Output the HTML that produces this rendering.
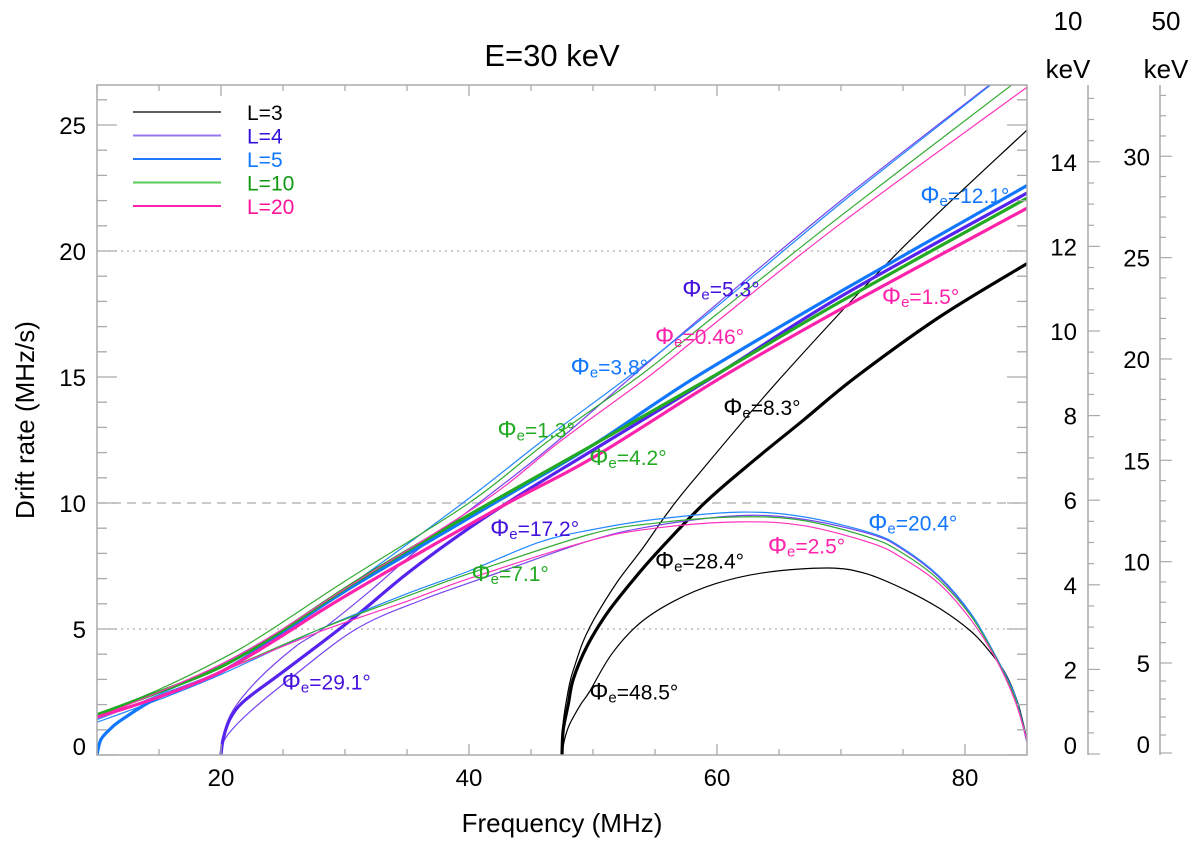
<!DOCTYPE html>
<html><head><meta charset="utf-8">
<style>
html,body{margin:0;padding:0;background:#fff;}
svg{display:block;font-family:"Liberation Sans",Arial,sans-serif;}
</style></head>
<body>
<svg id="chart" width="1200" height="847" viewBox="0 0 1200 847" xmlns="http://www.w3.org/2000/svg">
<text x="552" y="66" font-size="31" text-anchor="middle">E=30 keV</text>
<text x="562" y="832" font-size="26" text-anchor="middle">Frequency (MHz)</text>
<text transform="translate(34,420) rotate(-90)" font-size="26" text-anchor="middle">Drift rate (MHz/s)</text>
<text x="1068" y="30" font-size="26" text-anchor="middle">10</text>
<text x="1068" y="78" font-size="26" text-anchor="middle">keV</text>
<text x="1166" y="30" font-size="26" text-anchor="middle">50</text>
<text x="1166" y="78" font-size="26" text-anchor="middle">keV</text>
<g id="grid"></g>
<g id="curves"></g>
<g id="axes"></g>
<g id="labels"></g>
<g id="legend"></g>
</svg>
<script>
// ---- data ----
const xTicks = [20, 40, 60, 80];
const yTicks = [0, 5, 10, 15, 20, 25];
const kev10Ticks = [0, 2, 4, 6, 8, 10, 12, 14];
const kev50Ticks = [0, 5, 10, 15, 20, 25, 30];
const legendLabels = ["L=3", "L=4", "L=5", "L=10", "L=20"];
// thick curves [freq, drift]
const thickL3 = [[47.5,0],[47.6,1.0],[48.0,2.0],[48.4,3.0],[49.5,4.3],[51.1,5.6],[53,6.8],[55.1,8.0],[59,10],[63,11.7],[67,13.3],[71.2,15],[78,17.4],[85,19.5]];
const thickL4 = [[20,0],[20.2,0.7],[20.8,1.5],[22,2.2],[25,3.3],[30.6,5.4],[35,7.2],[40,9.0],[45,10.6],[50,12.1],[60,15.1],[70,18.2],[85,22.3]];
const thickL5 = [[10,0],[10.3,0.6],[11,1.0],[12,1.4],[15,2.3],[20,3.3],[24.5,4.7],[30,6.5],[42.4,10.1],[50,12.3],[58.3,15],[70,18.4],[85,22.6]];
const thickL10 = [[10,1.6],[15,2.5],[20,3.5],[24.5,4.8],[30,6.6],[35,8.1],[42.4,10.2],[50,12.3],[59.6,15],[70,18.0],[85,22.1]];
const thickL20 = [[10,1.5],[15,2.3],[20,3.3],[24.5,4.6],[30,6.3],[42.4,9.8],[50,11.8],[60.4,15],[70,17.7],[85,21.7]];
// thin upper curves
const upperL3 = [[47.5,0],[47.6,1.3],[48.1,2.8],[48.5,3.5],[49.2,4.5],[50.1,5.4],[52,6.9],[54,8.2],[56,9.6],[58.1,10.9],[65.2,15],[74.7,20],[85,24.8]];
const upperL4 = [[20,0],[20.2,0.8],[21,1.8],[23,3.0],[26,4.3],[28.2,5.0],[32,6.5],[36,8.2],[41.6,10.3],[47,12.4],[53.1,15],[60,17.9],[70,22.0],[82,26.6]];
const upperL5 = [[10,1.4],[15,2.4],[20,3.6],[24,4.7],[30,6.6],[39.5,10],[46,12.5],[53.1,15.1],[60,17.8],[70,21.9],[82.1,26.6]];
const upperL10 = [[10,1.6],[15,2.6],[20,3.8],[23.5,4.8],[30,6.9],[40,10],[46.5,12.5],[53.9,15.1],[60,17.5],[70,21.4],[83.8,26.6]];
const upperL20 = [[10,1.5],[15,2.5],[20,3.6],[24,4.7],[30,6.6],[41,10],[47.5,12.5],[54.7,15.1],[60,17.2],[70,21.1],[85,26.5]];
// arch curves
const archL3 = [[47.5,0],[47.7,0.6],[48.1,1.2],[49,2.0],[49.7,2.5],[51.5,4.0],[53.7,5.2],[56.5,6.1],[59.9,6.8],[64,7.25],[69,7.42],[72,7.2],[75.2,6.55],[78,5.8],[80.5,4.9],[82,4.1],[83.3,3.2],[84.3,2.0],[85,0.6]];
const archL4 = [[20,0],[20.1,0.4],[20.7,0.9],[22.3,1.7],[25.5,3.0],[30.9,5.0],[36.2,6.15],[41.6,7.1],[49.7,8.5],[55,9.1],[61.8,9.5],[67,9.35],[72.5,8.75],[75,8.15],[77.9,7.05],[80.5,5.55],[82.5,3.9],[84,2.3],[85,0.5]];
const archL5 = [[10,1.3],[15,2.2],[20,3.2],[28,5.0],[35,6.4],[40,7.3],[45.7,8.45],[50,8.95],[55,9.35],[61.8,9.64],[67,9.45],[72.5,8.8],[75,8.2],[77.9,7.1],[80.5,5.6],[82.5,3.9],[84,2.4],[85,0.6]];
const archL10 = [[10,1.5],[15,2.3],[20,3.3],[28,5.0],[35,6.3],[40,7.2],[49.7,8.75],[55,9.2],[61.8,9.45],[67,9.3],[72.5,8.6],[75,8.0],[77.9,6.95],[80.5,5.5],[82.5,3.85],[84,2.3],[85,0.6]];
const archL20 = [[10,1.5],[15,2.3],[20,3.3],[28,4.9],[35,6.1],[40,7.0],[49.7,8.5],[55,9.0],[61.8,9.25],[67,9.1],[72.5,8.4],[75,7.8],[77.9,6.8],[80.5,5.35],[82.5,3.8],[84,2.2],[85,0.6]];
const angleLabels = [
 ["12.1°",76.4,21.9,"#1177ff"],["5.3°",57.2,18.2,"#4411dd"],["1.5°",73.3,17.9,"#ff22aa"],
 ["0.46°",55.0,16.3,"#ff22aa"],["3.8°",48.2,15.1,"#1177ff"],["8.3°",60.5,13.5,"#000"],
 ["1.3°",42.3,12.6,"#22aa22"],["4.2°",49.7,11.5,"#22aa22"],["17.2°",41.7,8.7,"#4411dd"],
 ["20.4°",72.2,8.9,"#1177ff"],["2.5°",64.1,8.0,"#ff22aa"],["28.4°",55.0,7.4,"#000"],
 ["7.1°",40.2,6.9,"#22aa22"],["29.1°",24.9,2.6,"#4411dd"],["48.5°",49.7,2.2,"#000"]];

// ---- scales ----
const X0=97, X1=1027, Y0=755, Y1=85;
const xs = f => X0 + (f-10)*(X1-X0)/75;
const ys = d => Y0 - d*25.2;
const y10 = v => 754 - v*42.3;
const y50 = v => v<5 ? 753 - v*18 : 663 - (v-5)*20.27;
const NS="http://www.w3.org/2000/svg";
function mk(tag, attrs, parent){const e=document.createElementNS(NS,tag);for(const k in attrs)e.setAttribute(k,attrs[k]);parent.appendChild(e);return e;}
const grid=document.getElementById('grid'), axes=document.getElementById('axes'), curves=document.getElementById('curves'), labels=document.getElementById('labels'), legend=document.getElementById('legend');

[[5,"2,4"],[10,"9,6"],[20,"2,4"]].forEach(([v,da])=>{
  const l=mk('line',{x1:X0,x2:X1,y1:ys(v),y2:ys(v),stroke:'#aaa','stroke-width':1.2,'stroke-dasharray':da},grid);
  
  
});

const fr=mk('rect',{x:X0,y:Y1,width:X1-X0,height:Y0-Y1,fill:'none',stroke:'#aaa','stroke-width':1.5},axes);


for(let f=10;f<=85;f+=5){
  const maj = f%20===0, len = maj?11:6;
  mk('line',{x1:xs(f),x2:xs(f),y1:Y0,y2:Y0-len,stroke:'#aaa','stroke-width':1.3},axes);
  mk('line',{x1:xs(f),x2:xs(f),y1:Y1,y2:Y1+len,stroke:'#aaa','stroke-width':1.3},axes);
}
xTicks.forEach(v=>{
  const t=mk('text',{x:xs(v),y:786,'font-size':24,'text-anchor':'middle'},axes);t.textContent=v;
  
  
});
for(let d=0;d<=26;d++){
  const maj=d%5===0, len=maj?20:10;
  mk('line',{x1:X0,x2:X0+len,y1:ys(d),y2:ys(d),stroke:'#aaa','stroke-width':1.3},axes);
  mk('line',{x1:X1,x2:X1-len,y1:ys(d),y2:ys(d),stroke:'#aaa','stroke-width':1.3},axes);
}
yTicks.forEach(v=>{
  const t=mk('text',{x:86,y:ys(v)+(v===0?0:9),'font-size':24,'text-anchor':'end'},axes);t.textContent=v;
  
  
});
const AX10=1088, AX50=1160;
mk('line',{x1:AX10,x2:AX10,y1:Y1,y2:Y0,stroke:'#aaa','stroke-width':1.5},axes);
for(let v=0;v<=15.5;v+=0.5){
  const maj=v%2===0;
  mk('line',{x1:AX10,x2:AX10+(maj?12:6),y1:y10(v),y2:y10(v),stroke:'#aaa','stroke-width':1.2},axes);
}
kev10Ticks.forEach(v=>{
  const t=mk('text',{x:1077,y:y10(v)+(v===0?0:9),'font-size':24,'text-anchor':'end'},axes);t.textContent=v;
  
  
});
mk('line',{x1:AX50,x2:AX50,y1:Y1,y2:Y0,stroke:'#aaa','stroke-width':1.5},axes);
for(let v=0;v<=33;v++){
  const maj=v%5===0;
  mk('line',{x1:AX50,x2:AX50+(maj?12:6),y1:y50(v),y2:y50(v),stroke:'#aaa','stroke-width':1.2},axes);
}
kev50Ticks.forEach(v=>{
  const t=mk('text',{x:1150,y:y50(v)+(v===0?0:9),'font-size':24,'text-anchor':'end'},axes);t.textContent=v;
  
  
});

function pathFrom(pts){
  const p=pts.map(([f,d])=>[xs(f),ys(d)]);
  let s='M'+p[0][0].toFixed(1)+','+p[0][1].toFixed(1);
  for(let i=0;i<p.length-1;i++){
    const a=p[i-1]||p[i], b=p[i], c=p[i+1], e=p[i+2]||c;
    const c1=[b[0]+(c[0]-a[0])/6,b[1]+(c[1]-a[1])/6], c2=[c[0]-(e[0]-b[0])/6,c[1]-(e[1]-b[1])/6];
    s+=' C'+c1.map(v=>v.toFixed(1))+' '+c2.map(v=>v.toFixed(1))+' '+c[0].toFixed(1)+','+c[1].toFixed(1);
  }
  return s;
}
const cols={L3:'#000',L4:'#5522ee',L5:'#1177ff',L10:'#22aa22',L20:'#ff22aa'};
const thinCols={L3:'#000',L4:'#7744ee',L5:'#2288ff',L10:'#33aa33',L20:'#ff33bb'};
const sets=[['L3',thickL3,upperL3,archL3],['L4',thickL4,upperL4,archL4],['L5',thickL5,upperL5,archL5],['L10',thickL10,upperL10,archL10],['L20',thickL20,upperL20,archL20]];
const clip=mk('clipPath',{id:'pc'},curves);mk('rect',{x:X0,y:Y1,width:X1-X0,height:Y0-Y1},clip);
sets.forEach(([k,th,up,ar])=>{
  const g=mk('g',{'clip-path':'url(#pc)'},curves);
  
  
  const a=mk('path',{d:pathFrom(ar),fill:'none',stroke:thinCols[k],'stroke-width':1.2},g);
  
  
  const u=mk('path',{d:pathFrom(up),fill:'none',stroke:thinCols[k],'stroke-width':1.2},g);
  
  
  const t=mk('path',{d:pathFrom(th),fill:'none',stroke:cols[k],'stroke-width':3.2},g);
  
  
});

angleLabels.forEach(([txt,f,d,c])=>{
  const t=mk('text',{x:xs(f),y:ys(d),'font-size':21,fill:c},labels);
  
  
  const s1=mk('tspan',{'font-size':24},t);s1.textContent='\u03A6';
  const s2=mk('tspan',{'font-size':15,dy:3},t);s2.textContent='e';
  const s3=mk('tspan',{dy:-3},t);s3.textContent='='+txt;
});

const legCols=['#000','#9977ee','#2277ff','#55cc55','#ff22aa'];
const legText=['#000','#3311dd','#1177ff','#119911','#ff1199'];
legendLabels.forEach((lab,i)=>{
  const y=112+i*23.5;
  const l=mk('line',{x1:133,x2:221,y1:y,y2:y,stroke:legCols[i],'stroke-width':i===0?1.3:2},legend);
  
  
  const t=mk('text',{x:247,y:y+8,'font-size':21,fill:legText[i]},legend);t.textContent=lab;
  
  
});
</script>
</body></html>
